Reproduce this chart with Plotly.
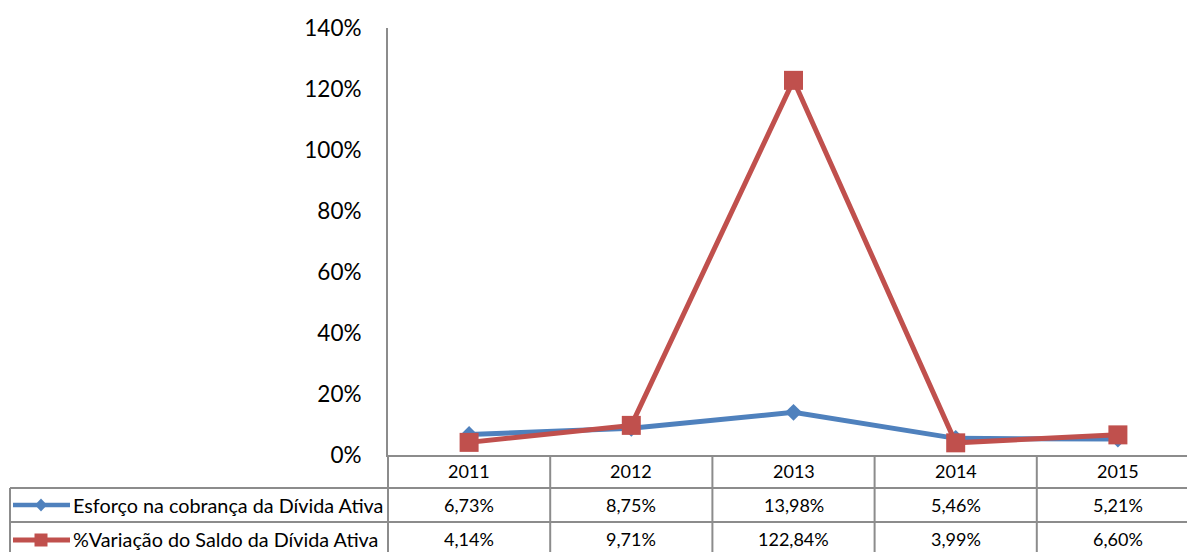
import plotly.graph_objects as go

# ---- data ----
years = ["2011", "2012", "2013", "2014", "2015"]
esforco = [6.73, 8.75, 13.98, 5.46, 5.21]
variacao = [4.14, 9.71, 122.84, 3.99, 6.60]
series_names = ["Esforço na cobrança da Dívida Ativa", "%Variação do Saldo da Dívida Ativa"]
ytick_vals = [0, 20, 40, 60, 80, 100, 120, 140]
ytick_text = ["0%", "20%", "40%", "60%", "80%", "100%", "120%", "140%"]

BLUE = "#4F81BD"
RED = "#C0504D"
GRID = "#8C8C8C"
FONT = "Lato"

W, H = 1187, 552
L, R, T, B = 388, 0, 28, 97
col_w = 162.2
plot_w = W - L - R
plot_h = H - T - B
x0 = -0.5
x1 = x0 + plot_w / col_w


def pxx(px):
    return (px - L) / plot_w


def pxy(py):
    return (H - B - py) / plot_h


def vx(v):
    return (v - x0) / (x1 - x0)


def fmt(v):
    return f"{v:.2f}%".replace(".", ",")


fig = go.Figure()
fig.add_trace(go.Scatter(
    x=years, y=esforco, name=series_names[0], mode="lines+markers",
    line=dict(color=BLUE, width=5),
    marker=dict(symbol="diamond", size=13, color=BLUE),
    cliponaxis=False,
))
fig.add_trace(go.Scatter(
    x=years, y=variacao, name=series_names[1], mode="lines+markers",
    line=dict(color=RED, width=5),
    marker=dict(symbol="square", size=19, color=RED),
    cliponaxis=False,
))

shapes = []
row_top = 455
row1 = 488
row2 = 522
row_bot = 557
# vertical column boundaries
for k in range(len(years)):
    shapes.append(dict(type="line", xref="paper", yref="paper",
                       x0=vx(k - 0.5), x1=vx(k - 0.5), y0=pxy(row_top), y1=pxy(row_bot),
                       line=dict(color=GRID, width=2)))
# left border of legend column
shapes.append(dict(type="line", xref="paper", yref="paper",
                   x0=pxx(10), x1=pxx(10), y0=pxy(row1), y1=pxy(row_bot),
                   line=dict(color=GRID, width=2)))
# horizontal row lines
for yy in (row1, row2, row_bot):
    shapes.append(dict(type="line", xref="paper", yref="paper",
                       x0=pxx(10), x1=vx(len(years) - 0.5), y0=pxy(yy), y1=pxy(yy),
                       line=dict(color=GRID, width=2)))

# legend keys
ky1, ky2 = 505, 540
shapes.append(dict(type="line", xref="paper", yref="paper",
                   x0=pxx(13), x1=pxx(70), y0=pxy(ky1), y1=pxy(ky1),
                   line=dict(color=BLUE, width=4.5)))
cx = 41
shapes.append(dict(type="path", xref="paper", yref="paper",
                   path=(f"M {pxx(cx - 6)} {pxy(ky1)} L {pxx(cx)} {pxy(ky1 - 6.5)} "
                         f"L {pxx(cx + 6)} {pxy(ky1)} L {pxx(cx)} {pxy(ky1 + 6.5)} Z"),
                   fillcolor=BLUE, line=dict(width=0)))
shapes.append(dict(type="line", xref="paper", yref="paper",
                   x0=pxx(13), x1=pxx(70), y0=pxy(ky2), y1=pxy(ky2),
                   line=dict(color=RED, width=5)))
shapes.append(dict(type="rect", xref="paper", yref="paper",
                   x0=pxx(cx - 6.5), x1=pxx(cx + 6.5), y0=pxy(ky2 + 6.5), y1=pxy(ky2 - 6.5),
                   fillcolor=RED, line=dict(width=0)))

annotations = []
hy = (row_top + row1) / 2
r1y = (row1 + row2) / 2
r2y = (row2 + row_bot) / 2 - 1
for i, yr in enumerate(years):
    annotations.append(dict(x=vx(i), y=pxy(hy), xref="paper", yref="paper", text=yr,
                            showarrow=False, xanchor="center", yanchor="middle",
                            font=dict(size=18, color="black", family=FONT)))
    annotations.append(dict(x=vx(i), y=pxy(r1y), xref="paper", yref="paper", text=fmt(esforco[i]),
                            showarrow=False, xanchor="center", yanchor="middle",
                            font=dict(size=18, color="black", family=FONT)))
    annotations.append(dict(x=vx(i), y=pxy(r2y), xref="paper", yref="paper", text=fmt(variacao[i]),
                            showarrow=False, xanchor="center", yanchor="middle",
                            font=dict(size=18, color="black", family=FONT)))
annotations.append(dict(x=pxx(71), y=pxy(r1y), xref="paper", yref="paper", text=series_names[0],
                        showarrow=False, xanchor="left", yanchor="middle",
                        font=dict(size=19.8, color="black", family=FONT)))
annotations.append(dict(x=pxx(71), y=pxy(r2y), xref="paper", yref="paper", text=series_names[1],
                        showarrow=False, xanchor="left", yanchor="middle",
                        font=dict(size=19.8, color="black", family=FONT)))

fig.update_layout(
    width=W, height=H,
    margin=dict(l=L, r=R, t=T, b=B, pad=0),
    paper_bgcolor="white", plot_bgcolor="white",
    showlegend=False,
    font=dict(family=FONT, color="black"),
    shapes=shapes,
    annotations=annotations,
    xaxis=dict(type="category", range=[x0, x1], showticklabels=False, showgrid=False,
               zeroline=False, showline=True, linecolor=GRID, linewidth=2, ticks="",
               fixedrange=True),
    yaxis=dict(range=[0, 140], tickvals=ytick_vals, ticktext=ytick_text, showgrid=False,
               zeroline=False, showline=True, linecolor=GRID, linewidth=2, ticks="",
               ticklabelstandoff=20, tickfont=dict(size=22.5, color="black", family=FONT),
               fixedrange=True),
)

fig.write_html("out.html")
